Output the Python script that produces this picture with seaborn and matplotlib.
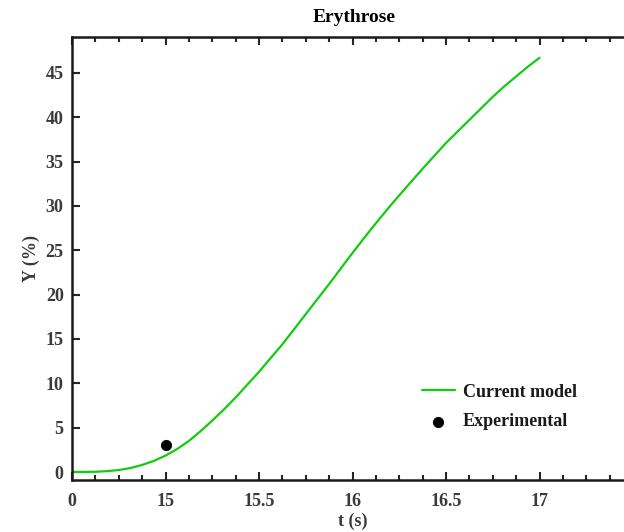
import numpy as np
import pandas as pd
import seaborn as sns
import matplotlib.pyplot as plt
from matplotlib.ticker import MultipleLocator

# Model curve (time in s, yield in %)
model_t = [14.5, 14.625, 14.6875, 14.75, 14.8125, 14.875, 14.9375, 15.0, 15.0625, 15.125,
           15.1875, 15.25, 15.3125, 15.375, 15.4375, 15.5, 15.5625, 15.625, 15.6875, 15.75,
           15.8125, 15.875, 15.9375, 16.0, 16.0625, 16.125, 16.1875, 16.25, 16.3125, 16.375,
           16.4375, 16.5, 16.5625, 16.625, 16.6875, 16.75, 16.8125, 16.875, 16.9375, 17.0]
model_y = [0.0, 0.03, 0.1, 0.22, 0.45, 0.8, 1.25, 1.85, 2.6, 3.5,
           4.6, 5.8, 7.05, 8.4, 9.85, 11.3, 12.85, 14.4, 16.1, 17.8,
           19.5, 21.2, 22.95, 24.7, 26.4, 28.05, 29.65, 31.2, 32.7, 34.2,
           35.65, 37.1, 38.4, 39.7, 41.0, 42.3, 43.5, 44.6, 45.7, 46.7]

# Experimental point
exp_t = [15.0]
exp_y = [3.0]

xtick_pos = [14.5, 15, 15.5, 16, 16.5, 17]
xtick_labels = ['0', '15', '15.5', '16', '16.5', '17']
ytick_pos = [0, 5, 10, 15, 20, 25, 30, 35, 40, 45]

sns.set_style("ticks")
plt.rcParams['font.family'] = ['Liberation Serif', 'DejaVu Serif']
plt.rcParams['font.weight'] = 'bold'

model_df = pd.DataFrame({'t': model_t, 'Y': model_y})
exp_df = pd.DataFrame({'t': exp_t, 'Y': exp_y})

fig = plt.figure(figsize=(6.24, 5.32), dpi=100)
ax = fig.add_axes([72 / 624, 52 / 532, 561 / 624, 443 / 532])

sns.lineplot(data=model_df, x='t', y='Y', ax=ax, color='#11cc11', linewidth=1.6,
             label='Current model')
sns.scatterplot(data=exp_df, x='t', y='Y', ax=ax, color='black', s=55,
                edgecolor='black', label='Experimental', zorder=5)

ax.set_xlim(14.5, 17.5)
ax.set_ylim(-0.9, 49.05)
ax.set_xticks(xtick_pos)
ax.set_xticklabels(xtick_labels)
ax.set_yticks(ytick_pos)
ax.xaxis.set_minor_locator(MultipleLocator(0.125))

ax.tick_params(axis='x', which='major', direction='in', length=6, width=1.5,
               top=True, labelsize=13, labelcolor='#3a3a3a', pad=9)
ax.tick_params(axis='x', which='minor', direction='in', length=3.5, width=1.5, top=True)
ax.tick_params(axis='y', which='major', direction='in', length=6, width=1.5,
               labelsize=13, labelcolor='#3a3a3a', pad=6)
for sp in ax.spines.values():
    sp.set_linewidth(1.8)
    sp.set_color('#1a1a1a')

ax.set_xlabel('t (s)', fontsize=13, fontweight='bold', color='#3a3a3a', labelpad=2)
ax.set_ylabel('Y (%)', fontsize=13, fontweight='bold', color='#3a3a3a', labelpad=4)
fig.text(354 / 624, 1 - 18 / 532, 'Erythrose', ha='center', va='center',
         fontsize=14, fontweight='bold', color='black')

leg = ax.legend(loc='center left', bbox_to_anchor=(413 / 624, 1 - 407 / 532),
                bbox_transform=fig.transFigure, frameon=False, fontsize=13,
                handlelength=1.8, handletextpad=0.45, labelspacing=0.7, borderpad=0)
for txt in leg.get_texts():
    txt.set_color('#1a1a1a')

fig.savefig('out.png', dpi=100)
